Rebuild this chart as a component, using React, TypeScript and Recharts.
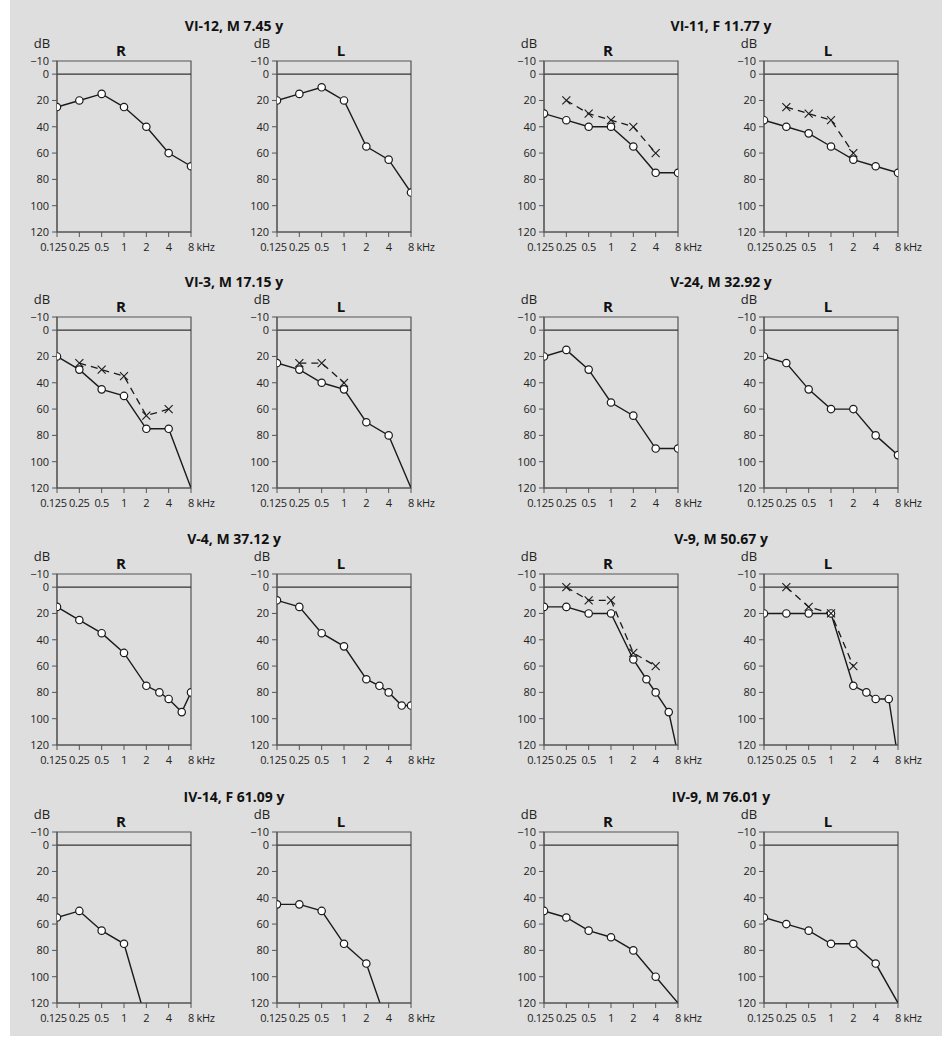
import { LineChart, Line, XAxis, YAxis, ReferenceLine, ReferenceArea } from 'recharts';

// frequency sets (kHz)
const STD = [0.125, 0.25, 0.5, 1, 2, 4, 8];
const EXT = [0.125, 0.25, 0.5, 1, 2, 3, 4, 6, 8];
const BC5 = [0.25, 0.5, 1, 2, 4];
const BC4 = [0.25, 0.5, 1, 2];
const BC3 = [0.25, 0.5, 1];

const FREQ_TICKS = [0.125, 0.25, 0.5, 1, 2, 4, 8];
const DB_TICKS = [-10, 0, 20, 40, 60, 80, 100, 120];
const NO_RESPONSE_DB = 120;

// air conduction (o) / bone conduction (x), dB HL
const VI12_R = [25, 20, 15, 25, 40, 60, 70];
const VI12_L = [20, 15, 10, 20, 55, 65, 90];

const VI11_R = [30, 35, 40, 40, 55, 75, 75];
const VI11_R_BC = [20, 30, 35, 40, 60];
const VI11_L = [35, 40, 45, 55, 65, 70, 75];
const VI11_L_BC = [25, 30, 35, 60];

const VI3_R = [20, 30, 45, 50, 75, 75];
const VI3_R_BC = [25, 30, 35, 65, 60];
const VI3_L = [25, 30, 40, 45, 70, 80];
const VI3_L_BC = [25, 25, 40];

const V24_R = [20, 15, 30, 55, 65, 90, 90];
const V24_L = [20, 25, 45, 60, 60, 80, 95];

const V4_R = [15, 25, 35, 50, 75, 80, 85, 95, 80];
const V4_L = [10, 15, 35, 45, 70, 75, 80, 90, 90];

const V9_R = [15, 15, 20, 20, 55, 70, 80, 95];
const V9_R_BC = [0, 10, 10, 50, 60];
const V9_L = [20, 20, 20, 20, 75, 80, 85, 85];
const V9_L_BC = [0, 15, 20, 60];

const IV14_R = [55, 50, 65, 75];
const IV14_L = [45, 45, 50, 75, 90];

const IV9_R = [50, 55, 65, 70, 80, 100];
const IV9_L = [55, 60, 65, 75, 75, 90];

type Pt = { f: number; db: number; nr?: boolean };

const pts = (freqs: number[], dbs: number[], nrAt?: number): Pt[] => {
  const out: Pt[] = dbs.map((db, i) => ({ f: freqs[i], db }));
  if (nrAt) out.push({ f: nrAt, db: NO_RESPONSE_DB, nr: true });
  return out;
};

interface Ear { air: Pt[]; bone?: Pt[] }
interface Patient { title: string; R: Ear; L: Ear; row: number; col: number }

const patients: Patient[] = [
  { title: 'VI-12, M 7.45 y', row: 0, col: 0, R: { air: pts(STD, VI12_R) }, L: { air: pts(STD, VI12_L) } },
  {
    title: 'VI-11, F 11.77 y', row: 0, col: 1,
    R: { air: pts(STD, VI11_R), bone: pts(BC5, VI11_R_BC) },
    L: { air: pts(STD, VI11_L), bone: pts(BC4, VI11_L_BC) },
  },
  {
    title: 'VI-3, M 17.15 y', row: 1, col: 0,
    R: { air: pts(STD, VI3_R, 8), bone: pts(BC5, VI3_R_BC) },
    L: { air: pts(STD, VI3_L, 8), bone: pts(BC3, VI3_L_BC) },
  },
  { title: 'V-24, M 32.92 y', row: 1, col: 1, R: { air: pts(STD, V24_R) }, L: { air: pts(STD, V24_L) } },
  { title: 'V-4, M 37.12 y', row: 2, col: 0, R: { air: pts(EXT, V4_R) }, L: { air: pts(EXT, V4_L) } },
  {
    title: 'V-9, M 50.67 y', row: 2, col: 1,
    R: { air: pts(EXT, V9_R, 7.5), bone: pts(BC5, V9_R_BC) },
    L: { air: pts(EXT, V9_L, 7.5), bone: pts(BC4, V9_L_BC) },
  },
  { title: 'IV-14, F 61.09 y', row: 3, col: 0, R: { air: pts(STD, IV14_R, 1.7) }, L: { air: pts(STD, IV14_L, 3.05) } },
  { title: 'IV-9, M 76.01 y', row: 3, col: 1, R: { air: pts(STD, IV9_R, 8) }, L: { air: pts(STD, IV9_L, 8) } },
];

const ROW_TOP = [61, 317, 574, 832];
const COL_LEFT = [57, 544];
const EAR_GAP = 220;
const PLOT_W = 134;
const PLOT_H = 171;
const Y_AXIS_W = 40;
const M_TOP = 10;
const M_RIGHT = 36;
const X_AXIS_H = 34;

const INK = '#1a1a1a';
const AXIS = '#555';
const TXT = '#222';
const FONT = '"Open Sans", "Noto Sans", sans-serif';

const Circle = (props: any) => {
  const { cx, cy, payload, index } = props;
  if (cx == null || cy == null || payload?.nr) return <g key={`c${index}`} />;
  return <circle key={`c${index}`} cx={cx} cy={cy} r={3.7} fill="#fff" stroke={INK} strokeWidth={1.2} />;
};

const Cross = (props: any) => {
  const { cx, cy, index } = props;
  if (cx == null || cy == null) return <g key={`x${index}`} />;
  const s = 4;
  return (
    <path
      key={`x${index}`}
      d={`M${cx - s},${cy - s}L${cx + s},${cy + s}M${cx + s},${cy - s}L${cx - s},${cy + s}`}
      stroke={INK}
      strokeWidth={1.1}
      fill="none"
    />
  );
};

const FreqTick = (props: any) => {
  const { x, y, payload } = props;
  const v = payload.value;
  const common = { y, dy: '0.71em', fontSize: 11, fill: TXT, fontFamily: FONT, letterSpacing: -0.3 };
  if (v === 8) {
    return (
      <text x={x - 3} textAnchor="start" {...common}>
        8 kHz
      </text>
    );
  }
  return (
    <text x={v === 0.125 ? x - 3.5 : x} textAnchor="middle" {...common}>
      {v}
    </text>
  );
};

const Audiogram = ({ ear, side, left, top }: { ear: Ear; side: string; left: number; top: number }) => (
  <div style={{ position: 'absolute', left: left - Y_AXIS_W, top: top - M_TOP }}>
    <LineChart
      width={Y_AXIS_W + PLOT_W + M_RIGHT}
      height={M_TOP + PLOT_H + X_AXIS_H}
      margin={{ top: M_TOP, right: M_RIGHT, bottom: 0, left: 0 }}
    >
      <XAxis
        dataKey="f"
        type="number"
        scale="log"
        domain={[0.125, 8]}
        ticks={FREQ_TICKS}
        interval={0}
        height={X_AXIS_H}
        tickSize={5}
        tickMargin={6}
        stroke={AXIS}
        tick={<FreqTick />}
        allowDataOverflow
      />
      <YAxis
        dataKey="db"
        type="number"
        domain={[-10, 120]}
        ticks={DB_TICKS}
        interval={0}
        reversed
        width={Y_AXIS_W}
        tickSize={5}
        tickMargin={3}
        stroke={AXIS}
        tick={{ fontSize: 11, fill: TXT, fontFamily: FONT }}
        tickFormatter={(v: number) => (v < 0 ? `\u2212${-v}` : String(v))}
        allowDataOverflow
      />
      <ReferenceArea x1={0.125} x2={8} y1={-10} y2={120} fill="none" stroke={AXIS} strokeWidth={1.2} />
      <ReferenceLine y={0} stroke="#333" strokeWidth={1.1} />
      <Line
        data={ear.air}
        dataKey="db"
        stroke={INK}
        strokeWidth={1.4}
        dot={Circle}
        activeDot={false}
        isAnimationActive={false}
      />
      {ear.bone && (
        <Line
          data={ear.bone}
          dataKey="db"
          stroke={INK}
          strokeWidth={1.3}
          strokeDasharray="7 5"
          dot={Cross}
          activeDot={false}
          isAnimationActive={false}
        />
      )}
    </LineChart>
    <div
      style={{
        position: 'absolute', left: Y_AXIS_W - 27, top: M_TOP - 25, width: 24, textAlign: 'center',
        fontSize: 13, color: TXT, fontFamily: FONT, lineHeight: '14px',
      }}
    >
      dB
    </div>
    <div
      style={{
        position: 'absolute', left: Y_AXIS_W - 3, top: M_TOP - 20, width: PLOT_W, textAlign: 'center',
        fontSize: 15, fontWeight: 700, color: '#111', fontFamily: FONT, lineHeight: '18px',
      }}
    >
      {side}
    </div>
  </div>
);

export default function App() {
  return (
    <div style={{ position: 'absolute', left: 0, top: 0, width: 949, height: 1050, fontFamily: FONT }}>
      <div style={{ position: 'absolute', left: 10, top: 0, width: 932, height: 1036, background: '#dedede' }} />
      {patients.map((p) => {
        const left = COL_LEFT[p.col];
        const top = ROW_TOP[p.row];
        return (
          <div key={p.title}>
            <div
              style={{
                position: 'absolute', left, top: top - 43, width: EAR_GAP + PLOT_W, textAlign: 'center',
                fontSize: 14, fontWeight: 700, color: '#111', lineHeight: '16px',
              }}
            >
              {p.title}
            </div>
            <Audiogram ear={p.R} side="R" left={left} top={top} />
            <Audiogram ear={p.L} side="L" left={left + EAR_GAP} top={top} />
          </div>
        );
      })}
    </div>
  );
}
